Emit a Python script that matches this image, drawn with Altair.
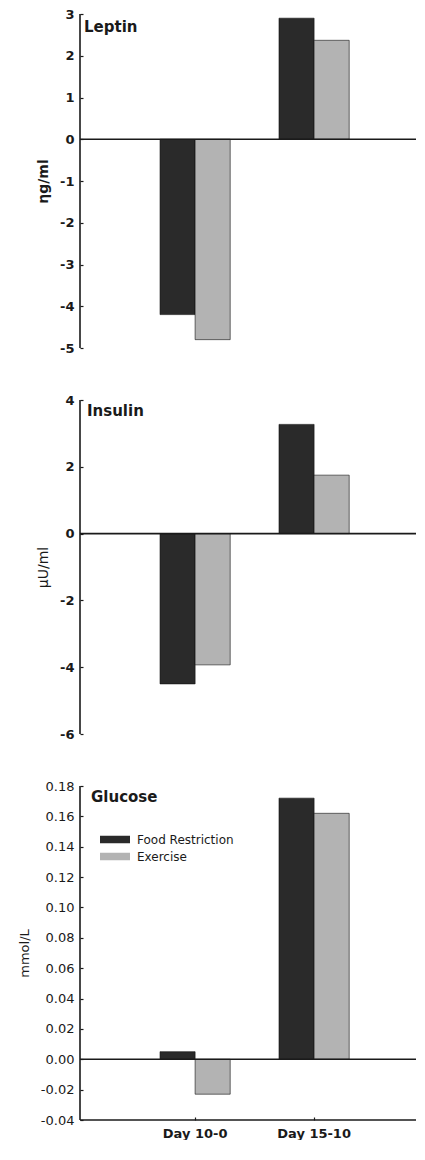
import altair as alt
import pandas as pd

# ---- data ----
days = ["Day 10-0", "Day 15-10"]
groups = ["Food Restriction", "Exercise"]
colors = ["#2a2a2a", "#b3b3b3"]

leptin_food = [-4.2, 2.9]
leptin_exercise = [-4.8, 2.37]
insulin_food = [-4.5, 3.27]
insulin_exercise = [-3.93, 1.75]
glucose_food = [0.005, 0.172]
glucose_exercise = [-0.023, 0.162]

panel_names = ["Leptin", "Insulin", "Glucose"]
y_titles = ["ηg/ml", "μU/ml", "mmol/L"]
y_domains = [[-5, 3], [-6, 4], [-0.04, 0.18]]
leptin_ticks = [-5, -4, -3, -2, -1, 0, 1, 2, 3]
insulin_ticks = [-6, -4, -2, 0, 2, 4]
glucose_ticks = [-0.04, -0.02, 0.0, 0.02, 0.04, 0.06, 0.08, 0.10, 0.12,
                 0.14, 0.16, 0.18]
y_ticks = [leptin_ticks, insulin_ticks, glucose_ticks]
y_formats = ["d", "d", ".2f"]
y_label_weights = ["bold", "bold", "normal"]
y_title_weights = ["bold", "normal", "normal"]
y_title_sizes = [14, 14, 13]
name_offsets = [4, 7, 11]
name_tops = [13, 11, 11]

W = 336
H = 334
INK = "#1a1a1a"


def panel(i, food, exercise, show_x, show_legend):
    df = pd.DataFrame({
        "day": days * 2,
        "group": [groups[0]] * len(days) + [groups[1]] * len(days),
        "value": food + exercise,
    })
    xscale = alt.Scale(domain=days, paddingInner=0.41, paddingOuter=0.617,
                       align=0.545)
    if show_x:
        xaxis = alt.Axis(title=None, offset=-3, domain=False, tickSize=3,
                         tickColor=INK, tickWidth=1.2, labelFontSize=13,
                         labelFontWeight="bold", labelPadding=7,
                         labelAngle=0, labelColor=INK)
    else:
        xaxis = None
    if show_legend:
        legend = alt.Legend(title=None, orient="none", legendX=27.5,
                            legendY=46, symbolType="M-2,-0.5H2V0.5H-2Z",
                            symbolSize=225, labelFontSize=12,
                            labelOffset=14.5, rowPadding=3, padding=0,
                            symbolStrokeWidth=0, labelColor=INK)
    else:
        legend = None

    fmt = y_formats[i]
    yaxis = alt.Axis(title=y_titles[i], values=y_ticks[i],
                     tickCount=len(y_ticks[i]),
                     labelExpr=("datum.value < 0 ? '-' + format(-datum.value, '"
                                + fmt + "') : format(datum.value, '" + fmt + "')"),
                     labelOverlap=False, offset=-3, domain=False,
                     tickSize=3, tickColor=INK, tickWidth=1.2,
                     labelPadding=6, labelFontSize=13,
                     labelFontWeight=y_label_weights[i], labelColor=INK,
                     titleFontSize=y_title_sizes[i],
                     titleFontWeight=y_title_weights[i], titleColor=INK,
                     titlePadding=9, grid=False)

    bars = alt.Chart(df).mark_bar(stroke="#111111", strokeWidth=0.6).encode(
        x=alt.X("day:N", scale=xscale, axis=xaxis, sort=days),
        xOffset=alt.XOffset("group:N",
                            scale=alt.Scale(domain=groups, paddingInner=0,
                                            paddingOuter=0)),
        y=alt.Y("value:Q",
                scale=alt.Scale(domain=y_domains[i], nice=False, zero=False),
                axis=yaxis),
        color=alt.Color("group:N", scale=alt.Scale(domain=groups,
                                                   range=colors),
                        legend=legend),
    )

    zero = alt.Chart(pd.DataFrame({"z": [0]})).mark_rule(
        color=INK, strokeWidth=1.6).encode(y=alt.datum(0))

    frame_df = pd.DataFrame({"k": [0]})
    left_line = alt.Chart(frame_df).mark_rule(color=INK, strokeWidth=1.6).encode(
        x=alt.value(0), y=alt.value(0), y2=alt.value(H))

    name = alt.Chart(pd.DataFrame({"name": [panel_names[i]]})).mark_text(
        align="left", baseline="middle", fontSize=15, fontWeight="bold",
        color=INK).encode(x=alt.value(name_offsets[i]),
                          y=alt.value(name_tops[i]), text="name:N")

    layers = [bars, zero, left_line, name]
    if show_x:
        bottom_line = alt.Chart(frame_df).mark_rule(
            color=INK, strokeWidth=1.6).encode(
            x=alt.value(0), x2=alt.value(W), y=alt.value(H))
        layers.append(bottom_line)

    return alt.layer(*layers).properties(width=W, height=H)


p1 = panel(0, leptin_food, leptin_exercise, False, False)
p2 = panel(1, insulin_food, insulin_exercise, False, False)
p3 = panel(2, glucose_food, glucose_exercise, True, True)

chart = (
    alt.vconcat(p1, p2, p3, spacing=52, bounds="flush")
    .resolve_scale(color="independent")
    .properties(padding={"left": 10, "top": 0, "right": 0, "bottom": 0})
    .configure(font="DejaVu Sans")
    .configure_view(stroke=None)
)

chart.save("out.html", embed_options={"renderer": "svg", "actions": False})
